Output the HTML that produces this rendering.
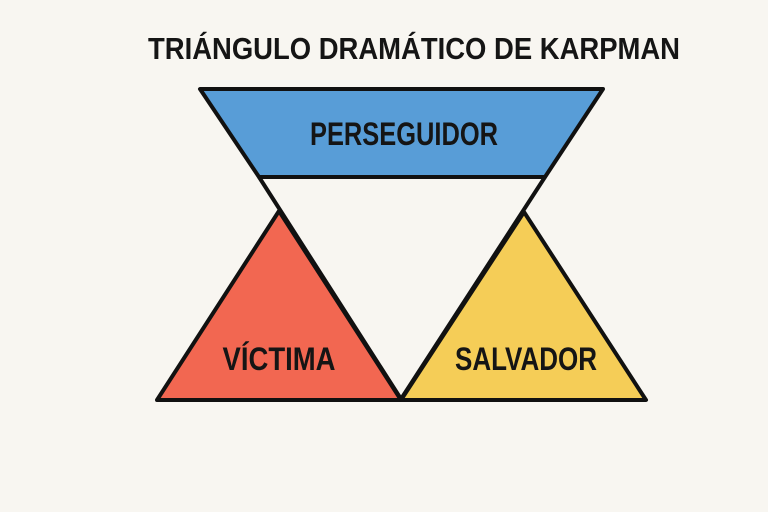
<!DOCTYPE html>
<html><head><meta charset="utf-8"><style>
html,body{margin:0;padding:0;background:#f8f6f1;}
svg{display:block;}
</style></head><body>
<svg width="768" height="512" viewBox="0 0 768 512" xmlns="http://www.w3.org/2000/svg">
<rect width="768" height="512" fill="#f8f6f1"/>
<text x="414" y="59" text-anchor="middle" font-family="Liberation Sans, sans-serif" font-weight="bold" font-size="31" fill="#151515" textLength="532" lengthAdjust="spacingAndGlyphs">TRIÁNGULO DRAMÁTICO DE KARPMAN</text>
<g stroke="#111" stroke-width="4" stroke-linejoin="round">
<polygon points="200,89 603,89 545,177 259,177" fill="#589dd7"/>
<polyline points="259,177 401,399 545,177" fill="none"/>
<polygon points="279,211 401,400 157,400" fill="#f26751"/>
<polygon points="524,212 646,400 401,400" fill="#f5cd57"/>
</g>
<g font-family="Liberation Sans, sans-serif" font-weight="bold" font-size="32" fill="#151515" text-anchor="middle">
<text x="404" y="145" textLength="188" lengthAdjust="spacingAndGlyphs">PERSEGUIDOR</text>
<text x="279" y="370" textLength="113" lengthAdjust="spacingAndGlyphs">VÍCTIMA</text>
<text x="526" y="370" textLength="142" lengthAdjust="spacingAndGlyphs">SALVADOR</text>
</g>
</svg>
</body></html>
